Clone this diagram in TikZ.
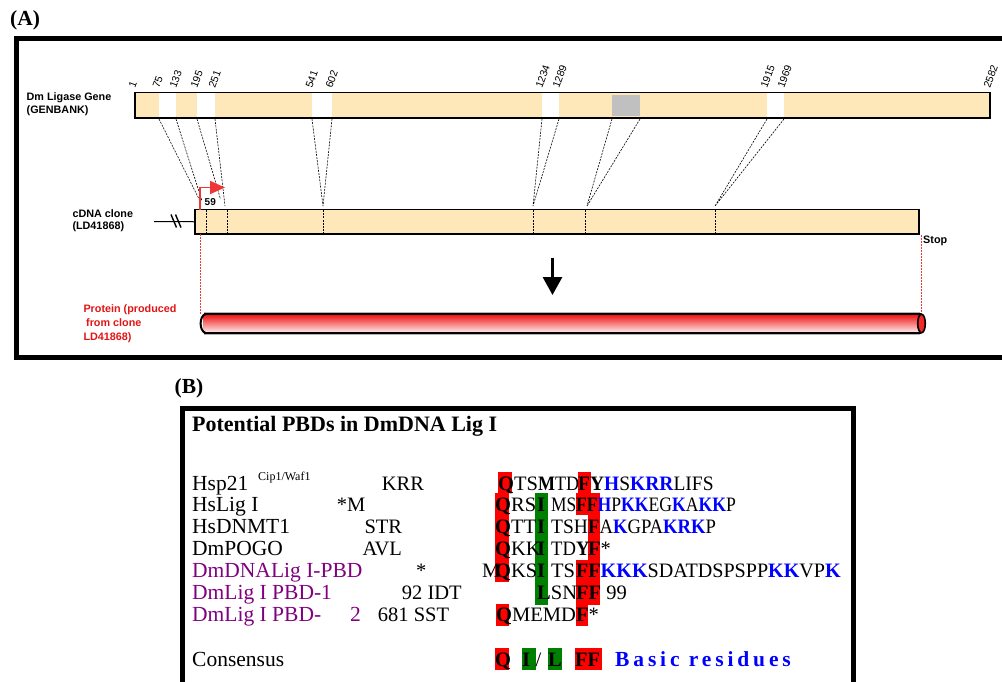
\documentclass[tikz,border=0pt]{standalone}
\usepackage{fontspec}
\setmainfont{Liberation Serif}
\newfontfamily\labelfont{Liberation Sans}
\newfontfamily\spacedserif[LetterSpace=18]{Liberation Serif}
\usetikzlibrary{arrows.meta}

\definecolor{exonfill}{RGB}{254,232,185}
\definecolor{gapgrey}{RGB}{192,192,192}
\definecolor{startred}{RGB}{240,55,55}
\definecolor{textred}{RGB}{226,20,20}
\definecolor{hlred}{RGB}{255,0,0}
\definecolor{hlgreen}{RGB}{0,128,0}
\definecolor{basicblue}{RGB}{0,0,255}
\definecolor{ligpurple}{RGB}{128,0,128}

% bold residue / bold basic residue
\newcommand{\kb}[1]{\textbf{#1}}
\newcommand{\bb}[1]{\textcolor{basicblue}{\textbf{#1}}}

\begin{document}
\begin{tikzpicture}[x=1pt,y=-1pt,
  panelframe/.style={draw=black, line width=5pt},
  genebar/.style={draw=black, line width=1.6pt, inner sep=0pt},
  guide/.style={black, line width=0.6pt, dash pattern=on 2pt off 1.2pt},
  redguide/.style={startred, line width=0.8pt, dash pattern=on 2pt off 1pt},
  alabel/.style={anchor=base west, inner sep=0pt, font=\labelfont\bfseries\fontsize{10.8}{13}\selectfont},
  bpnum/.style={anchor=base west, inner sep=0pt, rotate=70, font=\labelfont\fontsize{10.5}{10.5}\selectfont},
  paneltag/.style={anchor=base west, inner sep=0pt, font=\bfseries\fontsize{21.5}{21.5}\selectfont},
  rowname/.style={anchor=base west, inner sep=0pt, font=\fontsize{21.5}{21.5}\selectfont},
  seq/.style={anchor=base west, inner sep=0pt, font=\fontsize{20.5}{20.5}\selectfont},
]
\useasboundingbox (0,0) rectangle (1002,681);
\clip (0,0) rectangle (1002,681);

%% ---------------- Panel A ----------------
\node[paneltag] (tagA) at (10,25) {(A)};
\draw[panelframe] (16,38.5) rectangle (1020,357.5);

% genomic bar with introns
\fill[exonfill] (135,92.5) rectangle (990,118);
\fill[white] (159,92.5) rectangle (176,118);
\fill[white] (197,92.5) rectangle (215,118);
\fill[white] (312,92.5) rectangle (332,118);
\fill[white] (542,92.5) rectangle (559,118);
\fill[white] (767,92.5) rectangle (784,118);
\fill[gapgrey] (612,94.5) rectangle (640,116);
\node[genebar, minimum width=855pt, minimum height=25.5pt] (gene) at (562.5,105.25) {};

\node[alabel] (genename) at (26.5,100.8) {Dm Ligase Gene};
\node[alabel] (genebank) at (26.5,113.8) {(GENBANK)};

% base-pair positions
\foreach \x/\t in {135/1,159/75,176/133,197/195,215/251,312/541,332/602,542/1234,559/1289,767/1915,784/1969,990/2582}
  \node[bpnum] (bp\t) at (\x,89) {\t};

% cDNA clone
\node[genebar, fill=exonfill, minimum width=724pt, minimum height=24.5pt] (cdna) at (557,221.75) {};
\node[alabel] (cdnaname) at (72.3,217.3) {cDNA clone};
\node[alabel] (cdnaid) at (72.3,229.6) {(LD41868)};
\coordinate (stub) at (154,221.5);
\draw[line width=1pt] (stub) -- (cdna.west);
\draw[line width=1.4pt] (171,214.5) -- (176.5,227.5) (175.5,214.5) -- (181,227.5);

% intron boundaries mapped onto the clone
\foreach \n/\x in {a/159,b/176,c/197,d/215,e/312,f/332,g/542,h/559,i/612,j/640,k/767,l/784}
  \coordinate (g\n) at (\x,119);
\coordinate (ja) at (199.5,200);
\coordinate (jb) at (202,201);
\coordinate (jc) at (220.5,199);
\coordinate (jd) at (225,206);
\coordinate (je) at (323,206);
\coordinate (jg) at (533,206);
\coordinate (ji) at (587,206);
\coordinate (jk) at (715,206);
\draw[guide] (ga) -- (ja) (gb) -- (jb) (gc) -- (jc) (gd) -- (jd);
\draw[guide] (ge) -- (je) (gf) -- (je);
\draw[guide] (gg) -- (jg) (gh) -- (jg);
\draw[guide] (gi) -- (ji) (gj) -- (ji);
\draw[guide] (gk) -- (jk) (gl) -- (jk);
\foreach \x in {206,227,323,533,585.5,715}
  \draw[guide] (\x,210) -- (\x,233.5);

\node[alabel, font=\labelfont\bfseries\fontsize{10}{10}\selectfont] (start) at (204.5,205.5) {59};

% start codon arrow
\coordinate (atg) at (200,209.5);
\coordinate (atgtop) at (200,187.5);
\coordinate (atgtip) at (225,187.5);
\draw[startred, line width=1.8pt, -{Triangle[length=15pt,width=13pt]}] (atg) -- (atgtop) -- (atgtip);

% protein product
\coordinate (protL) at (200,314);
\coordinate (protR) at (921,314);
\draw[redguide] (200,234) -- (protL);
\draw[redguide] (921,235) -- (protR);
\node[alabel] (stop) at (923,243.5) {Stop};

\draw[line width=3pt, -{Triangle[length=18pt,width=19pt]}] (552.5,258) -- (552.5,295);

\shade[top color={rgb,255:red,240;green,20;blue,20}, middle color={rgb,255:red,255;green,80;blue,80},
       bottom color={rgb,255:red,255;green,236;blue,236}] (203,314.5) rectangle (921,332.5);
\draw[gray!60, line width=0.8pt] (204,312.6) -- (920,312.6) (204,334.4) -- (920,334.4);
\draw[black, line width=1.6pt] (204,314) -- (921,314) (204,333) -- (921,333);
\draw[black, line width=2pt] (205.5,314) .. controls (199,316) and (199,331) .. (205.5,333);
\draw[black, line width=1.6pt, fill={rgb,255:red,240;green,40;blue,40}] (921.5,323.5) ellipse [x radius=3.8, y radius=9.3];

\node[alabel, text=textred] (protA) at (83.3,312.3) {Protein (produced};
\node[alabel, text=textred] (protB) at (86,326.5) {from clone};
\node[alabel, text=textred] (protC) at (83.3,340.7) {LD41868)};

%% ---------------- Panel B ----------------
\node[paneltag] (tagB) at (174.5,393) {(B)};
\draw[panelframe] (182,408) rectangle (853.5,720);
\node[anchor=base west, inner sep=0pt, font=\bfseries\fontsize{22}{22}\selectfont] (title) at (192,431.7) {Potential PBDs in DmDNA Lig I};

% highlighted columns
\fill[hlred] (498,472) rectangle (512,493);
\fill[hlred] (495,493) rectangle (509,582);
\fill[hlred] (496,604) rectangle (509,626);
\fill[hlgreen] (535,493) rectangle (548,605);
\fill[hlred] (578,472) rectangle (591,493);
\fill[hlred] (576,493) rectangle (600,515);
\fill[hlred] (588,515) rectangle (600,560);
\fill[hlred] (576,560) rectangle (600,605);
\fill[hlred] (576,605) rectangle (588,626);
\fill[hlred] (495,648) rectangle (509,670);
\fill[hlgreen] (522,648) rectangle (536,670);
\fill[hlgreen] (548,648) rectangle (562,670);
\fill[hlred] (575,648) rectangle (602,670);

% row labels
\node[rowname] (r1) at (192,490) {Hsp21};
\node[anchor=base west, inner sep=0pt, font=\fontsize{12}{12}\selectfont] (r1sup) at (258,480) {Cip1/Waf1};
\node[rowname] (r2) at (192,511.8) {HsLig I};
\node[rowname] (r3) at (192,533.6) {HsDNMT1};
\node[rowname] (r4) at (192,555.4) {DmPOGO};
\node[rowname, text=ligpurple] (r5) at (192,577.2) {DmDNALig I-PBD};
\node[rowname, text=ligpurple] (r6) at (192,599) {DmLig I PBD-1};
\node[rowname, text=ligpurple] (r7) at (192,621) {DmLig I PBD-};
\node[rowname, text=ligpurple] (r7b) at (350,621) {2};
\node[rowname] (r8) at (192,666) {Consensus};

% flanking residues
\node[seq] (f1) at (381.7,490) {KRR};
\node[seq] (f2) at (336.7,511.8) {*M};
\node[seq] (f3) at (364.3,533.6) {STR};
\node[seq] (f4) at (362.3,555.4) {AVL};
\node[seq] (f5) at (416,577.2) {*};
\node[seq] (f6) at (401.7,599) {92 IDT};
\node[seq] (f7) at (377.7,621) {681 SST};

% aligned motifs (runs condensed to their column widths)
\path (498,490) node[seq] (s1a) {\kb{Q}TS};
\path (538,490) node[seq, xscale=0.88] (s1b) {\kb{M}TD};
\path (578,490) node[seq, xscale=0.95] (s1c) {\kb{F}\kb{Y}\bb{H}S\bb{KRR}LIFS};

\path (495,511.8) node[seq] (s2a) {\kb{Q}RS};
\path (537,511.8) node[seq] (s2b) {\kb{I}};
\path (551,511.8) node[seq, xscale=0.85] (s2c) {MS};
\path (576,511.8) node[seq, xscale=0.86] (s2d) {\kb{FF}\bb{H}P\bb{KK}EG\bb{K}A\bb{KK}P};

\path (495,533.6) node[seq] (s3a) {\kb{Q}TT};
\path (537,533.6) node[seq] (s3b) {\kb{I}};
\path (551,533.6) node[seq, xscale=0.95] (s3c) {TSH};
\path (588,533.6) node[seq, xscale=0.91] (s3d) {\kb{F}A\bb{K}GPA\bb{KRK}P};

\path (495,555.4) node[seq] (s4a) {\kb{Q}KK};
\path (537,555.4) node[seq] (s4b) {\kb{I}};
\path (551,555.4) node[seq, xscale=0.91] (s4c) {TD\kb{Y}};
\path (588,555.4) node[seq] (s4d) {\kb{F}*};

\path (482,577.2) node[seq] (s5m) {M};
\path (495,577.2) node[seq] (s5a) {\kb{Q}KS};
\path (537,577.2) node[seq] (s5b) {\kb{I}};
\path (551,577.2) node[seq] (s5c) {TS};
\path (576,577.2) node[seq, xscale=0.98] (s5d) {\kb{FF}\bb{KKK}SDATDSPSPP\bb{KK}VP\bb{K}};

\path (537,599) node[seq] (s6b) {\kb{L}SN};
\path (576,599) node[seq] (s6d) {\kb{FF} 99};

\path (496,621) node[seq] (s7a) {\kb{Q}MEMD};
\path (576,621) node[seq] (s7d) {\kb{F}*};

\node[seq] (c1) at (495,666) {\kb{Q}};
\node[seq] (c2) at (522,666) {\kb{I}};
\node[seq] (c3) at (535.5,666) {/};
\node[seq] (c4) at (548,666) {\kb{L}};
\node[seq] (c5) at (575,666) {\kb{FF}};
\node[anchor=base west, inner sep=0pt, text=basicblue, font=\spacedserif\bfseries\fontsize{21.5}{21.5}\selectfont] (c6) at (615,666) {Basic residues};
\end{tikzpicture}
\end{document}
